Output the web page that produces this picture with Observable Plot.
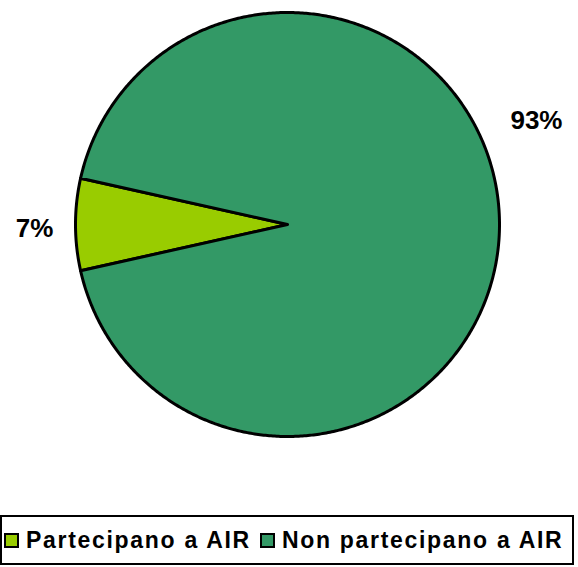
<!DOCTYPE html>
<html>
<head>
<meta charset="utf-8">
<script src="https://cdn.jsdelivr.net/npm/d3@7"></script>
<script src="https://cdn.jsdelivr.net/npm/@observablehq/plot@0.6"></script>
<style>
  html, body { margin: 0; padding: 0; background: #fff; }
  body { width: 578px; height: 567px; position: relative; overflow: hidden; font-family: "Liberation Sans", Arial, sans-serif; }
  #chart svg { display: block; }
  #legend {
    position: absolute; left: 0px; top: 515px; width: 574px; height: 50px;
    box-sizing: border-box; border: 2.5px solid #000; background: #fff;
    display: flex; align-items: center; padding-left: 2px;
    font-weight: bold; font-size: 23px; letter-spacing: 1.7px; color: #000;
  }
  .item { display: flex; align-items: center; white-space: nowrap; }
  .sw { width: 11px; height: 11px; border: 2.5px solid #000; margin-right: 7px; flex: none; }
  .item + .item { margin-left: 9px; }
</style>
</head>
<body>
<div id="chart"></div>
<div id="legend"></div>
<script>
const categories = ["Partecipano a AIR", "Non partecipano a AIR"];
const values = [7, 93];
const colors = ["#99CC00", "#339966"];
const labels = ["7%", "93%"];

// layout: first slice centred pointing left; label placement (angle clockwise from top, radius factor)
const total = d3.sum(values);
const startDeg = 270 - (values[0] / total) * 360 / 2;
const labelLayout = [{angle: null, r: 1.193, dy: 4}, {angle: 67.4, r: 1.272, dy: 0}];

const pts = [];
const labelRows = [];
let acc = startDeg;
categories.forEach((c, i) => {
  const span = values[i] / total * 360;
  const a0 = acc, a1 = acc + span;
  pts.push({slice: c, x: 0, y: 0});
  const n = Math.max(2, Math.ceil(span * 2));
  for (let k = 0; k <= n; k++) {
    const a = (a0 + (a1 - a0) * k / n) * Math.PI / 180;
    pts.push({slice: c, x: Math.sin(a), y: Math.cos(a)});
  }
  pts.push({slice: c, x: 0, y: 0});
  const L = labelLayout[i];
  const la = (L.angle == null ? (a0 + a1) / 2 : L.angle) * Math.PI / 180;
  labelRows.push({label: labels[i], x: L.r * Math.sin(la), y: L.r * Math.cos(la), dy: L.dy});
  acc = a1;
});

const chart = Plot.plot({
  width: 578,
  height: 505,
  marginLeft: 75, marginRight: 79, marginTop: 12, marginBottom: 69,
  x: {domain: [-1, 1], axis: null},
  y: {domain: [-1, 1], axis: null},
  color: {domain: categories, range: colors},
  style: {fontFamily: '"Liberation Sans", Arial, sans-serif', background: "#fff"},
  marks: [
    Plot.line(pts, {x: "x", y: "y", z: "slice", fill: "slice", stroke: "#000", strokeWidth: 3, strokeLinejoin: "round", curve: "linear"}),
    Plot.text(labelRows.filter(d => d.dy === 0), {x: "x", y: "y", text: "label", fontSize: 26, fontWeight: "bold", fill: "#000"}),
    Plot.text(labelRows.filter(d => d.dy !== 0), {x: "x", y: "y", text: "label", dy: 4, fontSize: 26, fontWeight: "bold", fill: "#000"})
  ]
});
document.getElementById("chart").appendChild(chart);

const legend = document.getElementById("legend");
categories.forEach((c, i) => {
  const it = document.createElement("div");
  it.className = "item";
  const sw = document.createElement("span");
  sw.className = "sw";
  sw.style.background = colors[i];
  const t = document.createElement("span");
  t.textContent = c;
  it.appendChild(sw);
  it.appendChild(t);
  legend.appendChild(it);
});
</script>
</body>
</html>
